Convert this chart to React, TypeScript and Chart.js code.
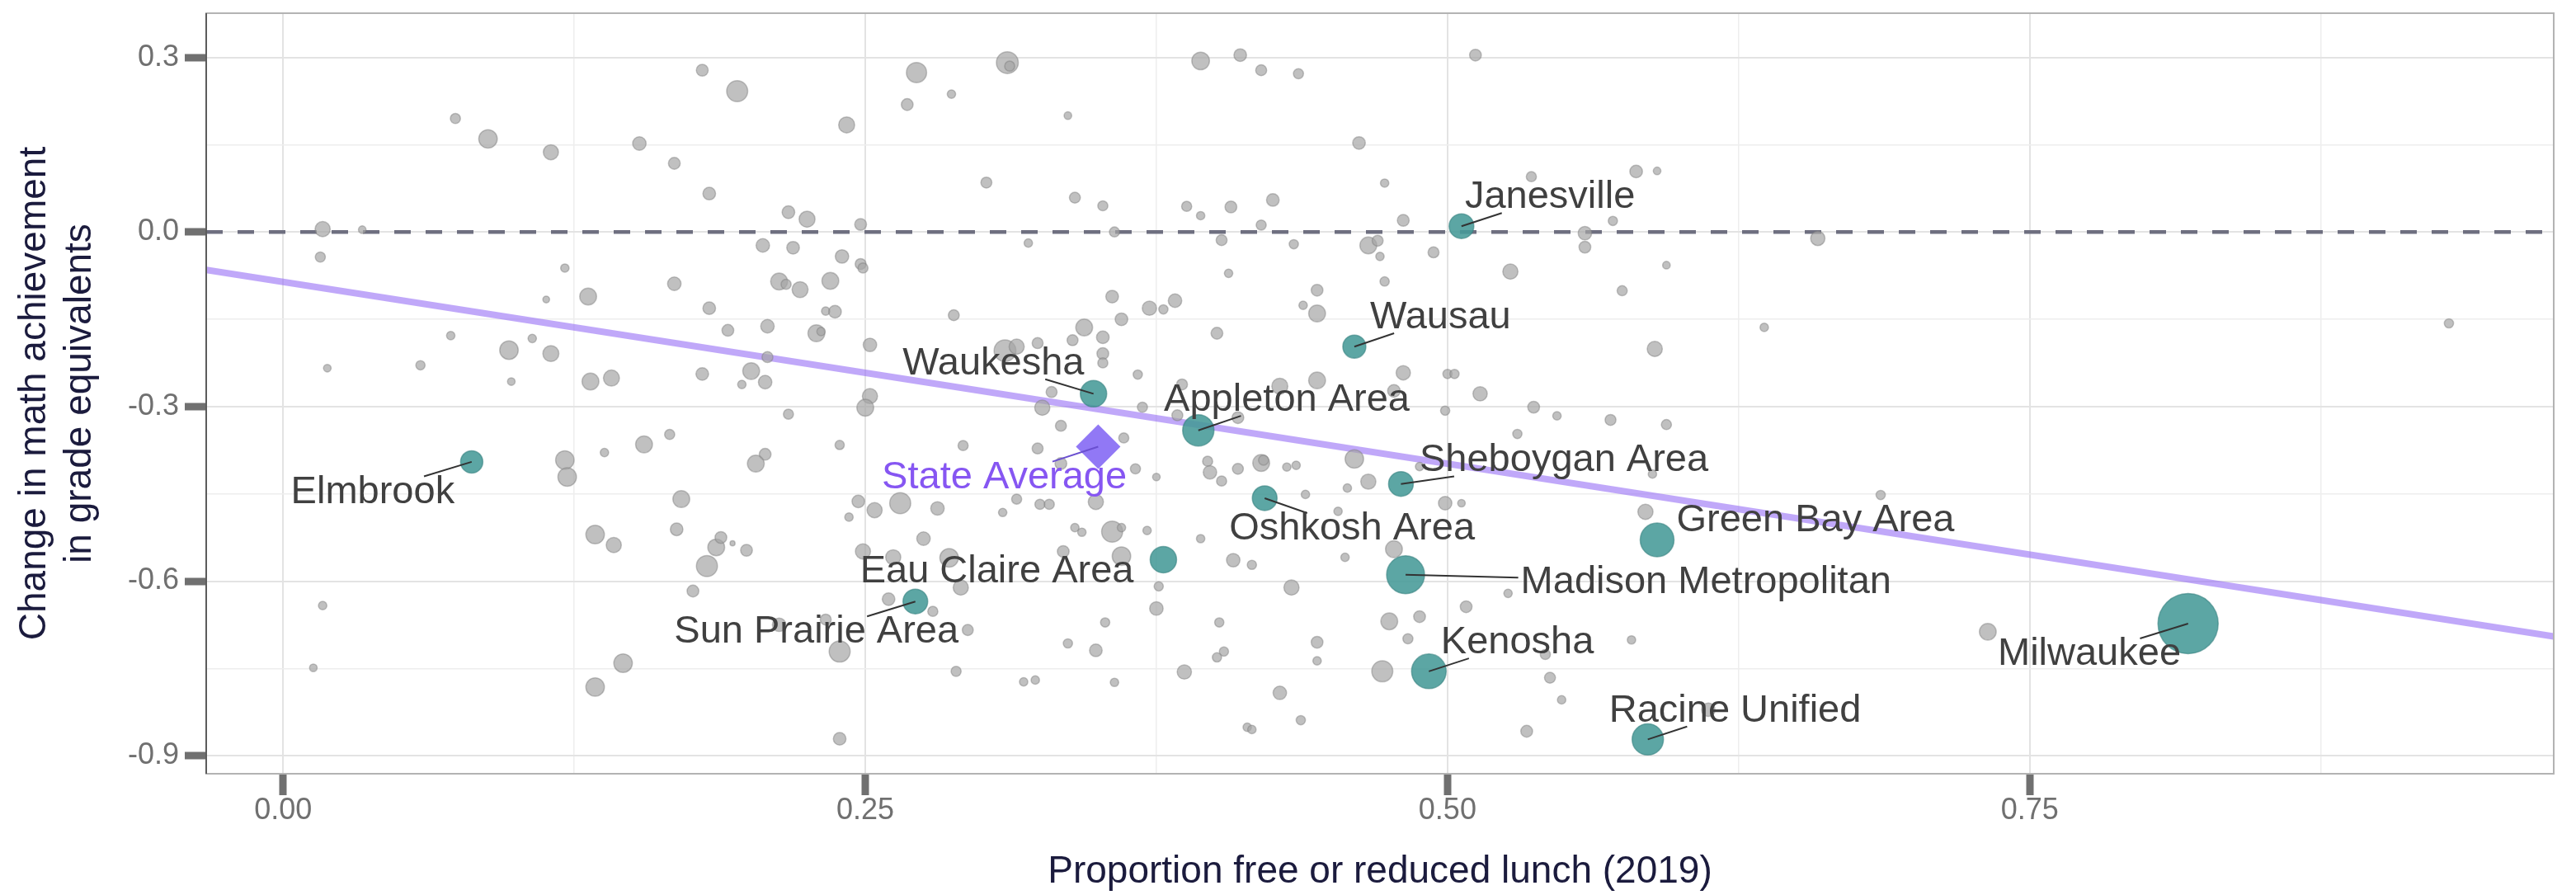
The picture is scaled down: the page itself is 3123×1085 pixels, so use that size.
import React, { useEffect, useRef } from 'react';
import { Chart, registerables } from 'chart.js';

Chart.register(...registerables);

// ---------------- data ----------------
const greyX = [
  0.074, 0.088, 0.115, 0.153, 0.017, 0.034, 0.016, 0.121, 0.131, 0.113,
  0.072, 0.107, 0.097, 0.115, 0.059, 0.019, 0.098, 0.132, 0.141, 0.155,
  0.121, 0.122, 0.138, 0.134, 0.142, 0.017, 0.013, 0.146, 0.134, 0.180,
  0.195, 0.272, 0.311, 0.312, 0.287, 0.268, 0.337, 0.242, 0.394, 0.411,
  0.420, 0.436, 0.168, 0.183, 0.302, 0.340, 0.352, 0.388, 0.394, 0.407,
  0.425, 0.420, 0.357, 0.217, 0.225, 0.248, 0.206, 0.219, 0.240, 0.320,
  0.403, 0.434, 0.248, 0.249, 0.406, 0.168, 0.213, 0.216, 0.222, 0.235,
  0.183, 0.233, 0.237, 0.356, 0.372, 0.378, 0.383, 0.444, 0.438, 0.444,
  0.288, 0.360, 0.191, 0.208, 0.229, 0.231, 0.344, 0.352, 0.401, 0.252,
  0.310, 0.315, 0.324, 0.339, 0.352, 0.352, 0.208, 0.201, 0.180, 0.207,
  0.197, 0.367, 0.386, 0.428, 0.444, 0.252, 0.250, 0.217, 0.330, 0.326,
  0.369, 0.384, 0.410, 0.166, 0.239, 0.292, 0.334, 0.361, 0.324, 0.207,
  0.203, 0.334, 0.366, 0.375, 0.397, 0.398, 0.403, 0.410, 0.420, 0.421,
  0.431, 0.435, 0.439, 0.171, 0.169, 0.186, 0.188, 0.193, 0.199, 0.182,
  0.176, 0.247, 0.243, 0.254, 0.265, 0.281, 0.309, 0.315, 0.325, 0.329,
  0.349, 0.340, 0.343, 0.356, 0.360, 0.371, 0.394, 0.275, 0.249, 0.262,
  0.286, 0.291, 0.335, 0.360, 0.408, 0.416, 0.433, 0.376, 0.375, 0.260,
  0.279, 0.294, 0.233, 0.213, 0.239, 0.289, 0.318, 0.323, 0.357, 0.353,
  0.337, 0.349, 0.387, 0.402, 0.404, 0.401, 0.428, 0.437, 0.414, 0.416,
  0.239, 0.444, 0.444, 0.512, 0.462, 0.473, 0.536, 0.581, 0.590, 0.481,
  0.571, 0.559, 0.559, 0.659, 0.466, 0.470, 0.471, 0.494, 0.527, 0.594,
  0.473, 0.575, 0.636, 0.589, 0.481, 0.500, 0.503, 0.477, 0.514, 0.499,
  0.537, 0.547, 0.570, 0.594, 0.530, 0.460, 0.488, 0.466, 0.457, 0.588,
  0.499, 0.506, 0.686, 0.585, 0.453, 0.477, 0.456, 0.526, 0.508, 0.475,
  0.488, 0.483, 0.579, 0.542, 0.472, 0.544, 0.549, 0.534, 0.612, 0.732,
  0.930,
];
const greyY = [
  0.195, 0.160, 0.137, 0.152, 0.005, 0.004, -0.043, -0.062, -0.111, -0.116,
  -0.178, -0.183, -0.203, -0.209, -0.229, -0.234, -0.257, -0.257, -0.251, -0.365,
  -0.392, -0.421, -0.379, -0.520, -0.538, -0.642, -0.749, -0.741, -0.782, 0.278,
  0.242, 0.274, 0.291, 0.285, 0.237, 0.219, 0.200, 0.184, 0.294, 0.304,
  0.278, 0.272, 0.118, 0.066, 0.085, 0.059, 0.045, 0.044, 0.028, 0.043,
  0.055, 0.012, 0.000, 0.034, 0.022, 0.013, -0.023, -0.027, -0.042, -0.019,
  -0.014, -0.021, -0.055, -0.062, -0.071, -0.089, -0.085, -0.090, -0.099, -0.084,
  -0.131, -0.136, -0.137, -0.111, -0.131, -0.133, -0.118, -0.100, -0.126, -0.140,
  -0.143, -0.150, -0.169, -0.162, -0.174, -0.171, -0.164, -0.181, -0.174, -0.194,
  -0.204, -0.197, -0.191, -0.186, -0.209, -0.225, -0.215, -0.239, -0.244, -0.258,
  -0.262, -0.245, -0.262, -0.265, -0.255, -0.282, -0.302, -0.313, -0.275, -0.302,
  -0.301, -0.315, -0.319, -0.348, -0.366, -0.367, -0.333, -0.354, -0.372, -0.382,
  -0.398, -0.398, -0.407, -0.421, -0.394, -0.413, -0.428, -0.407, -0.397, -0.392,
  -0.404, -0.401, -0.451, -0.459, -0.511, -0.542, -0.525, -0.535, -0.547, -0.574,
  -0.617, -0.463, -0.490, -0.478, -0.466, -0.475, -0.482, -0.459, -0.468, -0.468,
  -0.464, -0.508, -0.516, -0.515, -0.508, -0.513, -0.527, -0.527, -0.549, -0.559,
  -0.560, -0.611, -0.549, -0.557, -0.564, -0.572, -0.611, -0.609, -0.647, -0.631,
  -0.652, -0.684, -0.666, -0.675, -0.721, -0.755, -0.773, -0.770, -0.774, -0.671,
  -0.707, -0.719, -0.756, -0.671, -0.721, -0.731, -0.792, -0.839, -0.851, -0.855,
  -0.871, -0.705, -0.737, 0.304, 0.153, 0.084, 0.095, 0.104, 0.105, 0.020,
  0.019, -0.002, -0.026, -0.011, -0.023, -0.015, -0.042, -0.035, -0.068, -0.057,
  -0.085, -0.101, -0.164, -0.201, -0.242, -0.244, -0.244, -0.273, -0.278, -0.307,
  -0.301, -0.316, -0.323, -0.331, -0.347, -0.390, -0.403, -0.429, -0.440, -0.416,
  -0.466, -0.466, -0.452, -0.481, -0.480, -0.545, -0.559, -0.621, -0.644, -0.669,
  -0.661, -0.699, -0.701, -0.726, -0.755, -0.766, -0.804, -0.858, -0.821, -0.687,
  -0.157,
];
const greyEnroll = [
  2110, 7090, 4750, 3750, 4750, 1190, 2110, 1460, 5860, 940,
  1460, 1460, 7090, 5290, 1770, 1190, 1190, 5860, 5290, 5860,
  7090, 7090, 1460, 7090, 4750, 1460, 1190, 7090, 7090, 2870,
  9150, 8440, 9900, 2110, 1460, 2870, 1190, 5290, 6460, 3300,
  2480, 2110, 2870, 3300, 2480, 2480, 2110, 2110, 1460, 2870,
  3300, 2110, 2110, 3300, 5290, 2870, 3750, 3300, 3750, 1460,
  2480, 1770, 2480, 2110, 1460, 3750, 5860, 2110, 5290, 5860,
  3300, 1460, 3300, 3300, 4230, 1770, 3750, 2870, 1460, 5860,
  2480, 3300, 2870, 3750, 5860, 1460, 5860, 3300, 2870, 3750,
  9900, 4750, 2480, 2480, 2870, 2110, 2480, 5860, 3300, 3750,
  1460, 1770, 2480, 5290, 5860, 4750, 5860, 2110, 2480, 4750,
  2110, 2480, 2870, 2110, 1770, 2110, 2480, 2110, 2480, 2870,
  5860, 2870, 2110, 1190, 2110, 3750, 2110, 2480, 5860, 2110,
  1460, 1460, 1460, 5860, 3300, 5860, 2870, 530, 2870, 9150,
  2870, 3300, 1460, 4750, 9150, 3750, 1460, 2110, 2110, 2110,
  4750, 1460, 1460, 9150, 1460, 1460, 1460, 3750, 4750, 4750,
  7090, 4750, 2870, 7090, 3750, 1770, 4750, 1770, 3750, 3300,
  2110, 2480, 2480, 3750, 9150, 2110, 1460, 1460, 1460, 1770,
  1770, 3300, 4230, 1770, 1770, 1770, 3750, 1770, 1460, 1460,
  3300, 2870, 1460, 2870, 3300, 1460, 2110, 3300, 1190, 2870,
  1770, 3750, 2870, 4230, 5860, 2480, 1460, 2480, 4750, 1190,
  1770, 2110, 1460, 4750, 4230, 1770, 1770, 3300, 4230, 1770,
  2870, 1460, 2480, 2110, 1770, 7090, 1460, 4750, 1460, 1460,
  3750, 1190, 1770, 4750, 1460, 5860, 1460, 1460, 2870, 5860,
  2870, 2110, 1460, 2110, 9150, 2480, 1460, 2870, 3750, 5860,
  1770,
];

const districtNames = [
  'Elmbrook', 'Waukesha', 'Appleton Area', 'Wausau', 'Janesville',
  'Sheboygan Area', 'Oshkosh Area', 'Eau Claire Area', 'Sun Prairie Area',
  'Madison Metropolitan', 'Green Bay Area', 'Kenosha', 'Racine Unified', 'Milwaukee',
];
const districtX = [0.081, 0.348, 0.393, 0.460, 0.506, 0.480, 0.4215, 0.378, 0.2715, 0.482, 0.590, 0.492, 0.586, 0.818];
const districtY = [-0.395, -0.278, -0.341, -0.197, 0.010, -0.433, -0.4575, -0.563, -0.635, -0.589, -0.529, -0.755, -0.872, -0.673];
const districtEnroll = [10250, 14400, 20300, 11000, 12660, 12660, 12660, 14400, 12660, 29800, 23650, 24800, 20300, 75000];
// label anchor (centre of text) in data units
const labelX = [0.0385, 0.305, 0.431, 0.497, 0.544, 0.550, 0.459, 0.3065, 0.229, 0.611, 0.658, 0.530, 0.6235, 0.7756];
const labelY = [-0.447, -0.226, -0.289, -0.147, 0.0595, -0.393, -0.510, -0.584, -0.6876, -0.6026, -0.4963, -0.7058, -0.823, -0.7255];

const stateName = 'State Average';
const stateX = 0.350;
const stateY = -0.369;
const stateLabelX = 0.3097;
const stateLabelY = -0.4215;

// fitted (lm) line, evaluated at the panel edges
const fitX = [-0.033, 0.975];
const fitY = [-0.065, -0.695];

const xMajorTicks = [0, 0.25, 0.5, 0.75];
const xTickLabels = ['0.00', '0.25', '0.50', '0.75'];
const xMinorTicks = [0.125, 0.375, 0.625, 0.875];
const yMajorTicks = [-0.9, -0.6, -0.3, 0, 0.3];
const yTickLabels = ['-0.9', '-0.6', '-0.3', '0.0', '0.3'];
const yMinorTicks = [-0.75, -0.45, -0.15, 0.15];

// ---------------- layout / style ----------------
const X_MIN = -0.033;
const X_MAX = 0.975;
const Y_MIN = -0.931;
const Y_MAX = 0.376;
const FONT = '"Liberation Sans", Arial, Helvetica, sans-serif';
const sizeToRadius = (e: number) => 0.1333 * Math.sqrt(e);
const DIAMOND_R = 27;

const isMajor = (v: number, list: number[]) => list.some((m) => Math.abs(m - v) < 1e-6);

export default function App() {
  const ref = useRef<HTMLCanvasElement | null>(null);

  useEffect(() => {
    if (!ref.current) return;

    const labelPlugin = {
      id: 'repelLabels',
      afterDatasetsDraw(chart: any) {
        const { ctx, chartArea: a, scales } = chart;
        const xs = scales.x;
        const ys = scales.y;
        ctx.save();
        // panel border
        ctx.lineWidth = 2;
        ctx.strokeStyle = '#b3b3b3';
        ctx.strokeRect(a.left, a.top, a.right - a.left, a.bottom - a.top);
        ctx.strokeStyle = '#5c5c5c';
        ctx.beginPath();
        ctx.moveTo(a.left, a.top);
        ctx.lineTo(a.left, a.bottom);
        ctx.stroke();

        ctx.font = `47px ${FONT}`;
        const drawLabel = (
          vx: number, vy: number, r: number, text: string, lx: number, ly: number,
          color: string, segColor: string,
        ) => {
          const px = xs.getPixelForValue(vx);
          const py = ys.getPixelForValue(vy);
          const cx = xs.getPixelForValue(lx);
          const cy = ys.getPixelForValue(ly);
          const w = ctx.measureText(text).width;
          const hw = w / 2 + 3;
          const hh = 19;
          const dx = cx - px;
          const dy = cy - py;
          const s = Math.min(
            dx !== 0 ? hw / Math.abs(dx) : Infinity,
            dy !== 0 ? hh / Math.abs(dy) : Infinity,
          );
          if (s < 1) {
            const ex = cx - s * dx;
            const ey = cy - s * dy;
            const len = Math.hypot(ex - px, ey - py);
            if (len - r > 24) {
              ctx.strokeStyle = segColor;
              ctx.lineWidth = 2;
              ctx.beginPath();
              ctx.moveTo(px, py);
              ctx.lineTo(ex, ey);
              ctx.stroke();
            }
          }
          ctx.fillStyle = color;
          ctx.textAlign = 'center';
          ctx.textBaseline = 'middle';
          ctx.fillText(text, cx, cy);
        };
        districtNames.forEach((n, i) => {
          drawLabel(districtX[i], districtY[i], sizeToRadius(districtEnroll[i]), n, labelX[i], labelY[i], '#404040', '#333333');
        });
        drawLabel(stateX, stateY, DIAMOND_R * 0.7, stateName, stateLabelX, stateLabelY, '#8656f2', '#6a4fd0');
        ctx.restore();
      },
    };

    const tickOpts = (majors: number[]) => ({
      color: (c: any) => (c.tick && isMajor(c.tick.value, majors) ? '#e3e3e3' : '#eeeeee'),
      lineWidth: (c: any) => (c.tick && isMajor(c.tick.value, majors) ? 2 : 1.5),
      tickColor: (c: any) => (c.tick && isMajor(c.tick.value, majors) ? '#707070' : 'rgba(0,0,0,0)'),
      tickWidth: 9,
      tickLength: 26,
      drawTicks: true,
      drawOnChartArea: true,
    });

    const chart = new Chart(ref.current, {
      type: 'bubble',
      data: {
        datasets: [
          {
            type: 'bubble',
            label: stateName,
            data: [{ x: stateX, y: stateY, r: DIAMOND_R }],
            pointStyle: 'rectRot',
            backgroundColor: '#9178f5',
            borderColor: '#9178f5',
            borderWidth: 0,
            order: 0,
          } as any,
          {
            type: 'bubble',
            label: 'districts',
            data: districtNames.map((_, i) => ({ x: districtX[i], y: districtY[i], r: sizeToRadius(districtEnroll[i]) })),
            backgroundColor: 'rgba(70,154,151,0.88)',
            borderColor: 'rgba(55,130,128,0.6)',
            borderWidth: 1.5,
            order: 1,
          } as any,
          {
            type: 'bubble',
            label: 'others',
            data: greyX.map((x, i) => ({ x, y: greyY[i], r: sizeToRadius(greyEnroll[i]) })),
            backgroundColor: 'rgba(165,165,165,0.7)',
            borderColor: 'rgba(125,125,125,0.45)',
            borderWidth: 1.5,
            order: 2,
          } as any,
          {
            type: 'line',
            label: 'fit',
            data: fitX.map((x, i) => ({ x, y: fitY[i] })),
            borderColor: 'rgba(150,110,245,0.6)',
            borderWidth: 8,
            pointRadius: 0,
            fill: false,
            tension: 0,
            order: 3,
          } as any,
          {
            type: 'line',
            label: 'zero',
            data: [{ x: X_MIN, y: 0 }, { x: X_MAX, y: 0 }],
            borderColor: '#6e6f80',
            borderWidth: 4.5,
            borderDash: [20, 18],
            pointRadius: 0,
            fill: false,
            order: 4,
          } as any,
        ],
      },
      options: {
        responsive: false,
        animation: false,
        events: [],
        layout: { autoPadding: false, padding: { left: 0, right: 27, top: 16, bottom: 0 } },
        plugins: { legend: { display: false }, tooltip: { enabled: false } },
        scales: {
          x: {
            type: 'linear',
            position: 'bottom',
            min: X_MIN,
            max: X_MAX,
            afterBuildTicks: (s: any) => {
              s.ticks = [...xMajorTicks, ...xMinorTicks].sort((a, b) => a - b).map((v) => ({ value: v }));
            },
            afterFit: (s: any) => {
              s.height = 147;
              s.paddingLeft = 0; s.paddingRight = 0; s.paddingTop = 0; s.paddingBottom = 0;
            },
            ticks: {
              autoSkip: false,
              maxRotation: 0,
              minRotation: 0,
              padding: -3,
              color: '#707070',
              font: { family: FONT, size: 36 },
              callback: (v: any) => {
                const i = xMajorTicks.findIndex((m) => Math.abs(m - v) < 1e-6);
                return i >= 0 ? xTickLabels[i] : '';
              },
            },
            grid: tickOpts(xMajorTicks),
            border: { display: false },
            title: {
              display: true,
              text: 'Proportion free or reduced lunch (2019)',
              color: '#1b1b3d',
              font: { family: FONT, size: 46 },
              padding: { top: 0, bottom: 0 },
            },
          },
          y: {
            type: 'linear',
            position: 'left',
            min: Y_MIN,
            max: Y_MAX,
            afterBuildTicks: (s: any) => {
              s.ticks = [...yMajorTicks, ...yMinorTicks].sort((a, b) => a - b).map((v) => ({ value: v }));
            },
            afterFit: (s: any) => {
              s.width = 250;
              s.paddingLeft = 0; s.paddingRight = 0; s.paddingTop = 0; s.paddingBottom = 0;
            },
            ticks: {
              autoSkip: false,
              padding: 7,
              color: '#707070',
              font: { family: FONT, size: 36 },
              callback: (v: any) => {
                const i = yMajorTicks.findIndex((m) => Math.abs(m - v) < 1e-6);
                return i >= 0 ? yTickLabels[i] : '';
              },
            },
            grid: tickOpts(yMajorTicks),
            border: { display: false },
            title: {
              display: true,
              text: ['Change in math achievement', 'in grade equivalents'],
              color: '#1b1b3d',
              font: { family: FONT, size: 46 },
              padding: { top: 15, bottom: 0 },
            },
          },
        },
      } as any,
      plugins: [labelPlugin],
    });

    return () => chart.destroy();
  }, []);

  return (
    <div style={{ position: 'absolute', left: 0, top: 0, width: 3123, height: 1085, background: '#ffffff' }}>
      <canvas ref={ref} width={3123} height={1085} style={{ display: 'block', width: 3123, height: 1085 }} />
    </div>
  );
}
